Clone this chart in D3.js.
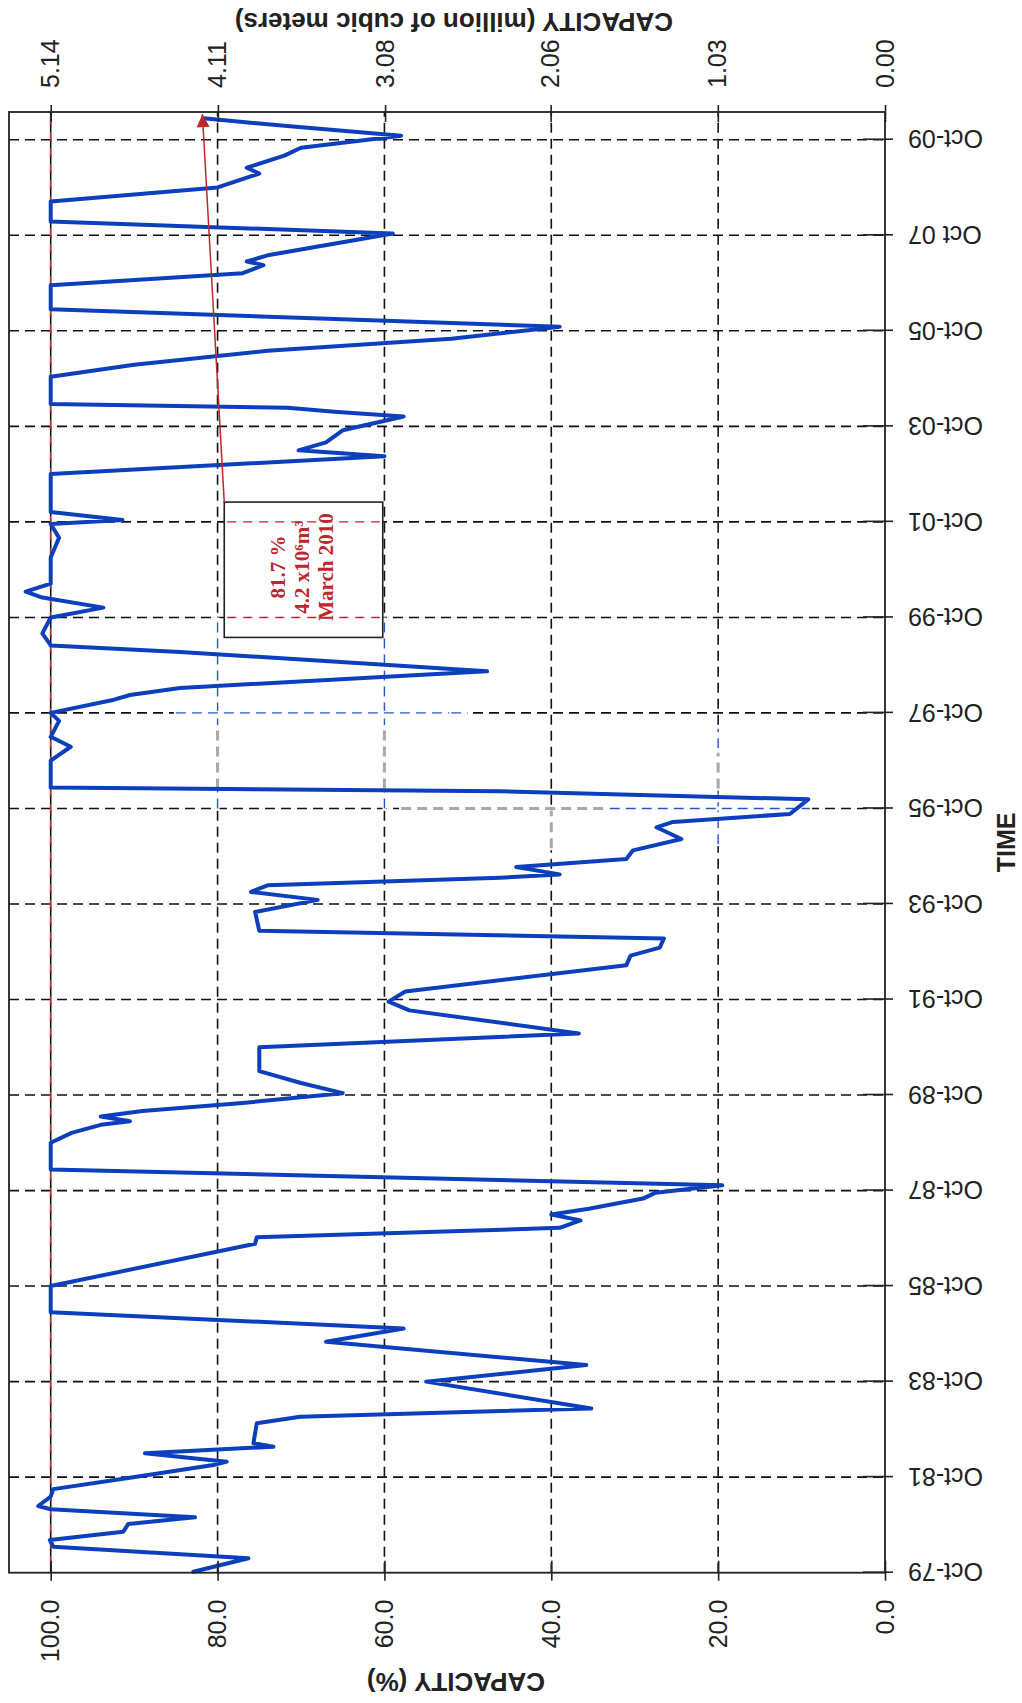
<!DOCTYPE html>
<html>
<head>
<meta charset="utf-8">
<script src="https://cdn.jsdelivr.net/npm/d3@7"></script>
<style>
  html, body { margin: 0; padding: 0; background: #fff; }
  svg { display: block; }
</style>
</head>
<body>
<script>
// Reservoir storage record, Oct 1979 - Mar 2010
const obsDates = [
  "1979-10-08","1980-01-19","1980-04-17","1980-06-07","1980-08-10","1980-10-08","1980-11-28",
  "1981-01-28","1981-02-22","1981-05-05","1981-07-01","1981-09-22","1982-01-02","1982-01-27",
  "1982-04-01","1982-05-22","1982-06-17","1982-11-17","1983-01-06","1983-03-10","1983-10-01",
  "1984-02-05","1984-08-01","1984-11-10","1985-03-15","1985-10-01","1986-08-20","1986-10-10",
  "1986-12-20","1987-02-15","1987-04-01","1987-05-15","1987-08-01","1987-09-15","1987-11-10",
  "1988-03-10","1988-10-01","1988-12-15","1989-02-15","1989-03-15","1989-04-20","1989-06-01",
  "1989-08-01","1989-10-15","1990-01-01","1990-04-01","1990-10-01","1991-01-15","1991-07-10",
  "1991-09-15","1991-12-01","1992-06-20","1992-09-01","1992-11-01","1993-01-10","1993-03-10",
  "1993-08-01","1993-11-01","1994-01-01","1994-02-20","1994-04-20","1994-05-15","1994-07-10",
  "1994-09-10","1994-11-15","1995-02-10","1995-05-10","1995-06-20","1995-08-20","1995-12-10",
  "1996-02-10","1996-03-10","1996-10-01","1997-01-15","1997-04-01","1997-08-01","1997-10-01",
  "1998-01-10","1998-02-15","1998-04-10","1998-08-15","1999-01-10","1999-03-01","1999-06-01",
  "1999-10-01","1999-12-15","2000-03-01","2000-04-15","2000-06-15","2001-01-01","2001-06-01",
  "2001-09-15","2001-10-15","2001-12-15","2002-10-01","2003-02-15","2003-04-01","2003-06-01",
  "2003-09-01","2003-12-15","2004-01-20","2004-02-20","2004-03-20","2004-10-15","2005-01-15",
  "2005-05-01","2005-08-01","2005-11-01","2006-03-15","2006-09-15","2006-12-15","2007-02-15",
  "2007-03-15","2007-05-01","2007-10-15","2008-01-15","2008-06-15","2008-10-01","2009-01-15",
  "2009-03-01","2009-06-01","2009-08-01","2009-11-01","2010-01-15","2010-03-15"
];
const capacityPct = [
  82.9, 76.3, 99.7, 100.1, 91.3, 90.7, 82.7,
  100.0, 101.5, 100.0, 99.7, 90.9, 80.5, 78.9,
  88.7, 73.3, 75.7, 75.3, 70.1, 35.2, 55.0,
  35.8, 67.0, 57.7, 100.0, 100.0, 75.5, 75.3,
  39.0, 36.5, 40.0, 35.5, 29.0, 27.5, 19.5,
  100.0, 100.0, 97.5, 94.0, 90.5, 94.0, 89.0,
  77.0, 65.0, 70.0, 75.0, 75.0, 36.7, 57.0,
  59.5, 57.5, 31.0, 30.5, 27.0, 26.5, 75.0,
  75.5, 68.0, 76.0, 74.0, 46.1, 39.0, 44.2,
  31.0, 30.2, 24.4, 27.4, 25.4, 11.4, 9.2,
  46.1, 100.0, 100.0, 97.6, 100.0, 99.0, 100.0,
  92.4, 90.5, 84.5, 47.7, 84.5, 100.0, 101.0,
  100.0, 93.7, 101.0, 103.0, 100.0, 100.0, 99.0,
  100.0, 91.4, 100.0, 100.0, 60.0, 70.3, 67.0,
  65.0, 57.7, 66.0, 71.6, 100.0, 100.0, 90.0,
  74.0, 52.0, 39.0, 100.0, 100.0, 77.0, 74.5,
  76.5, 74.0, 59.0, 100.0, 100.0, 80.0, 75.0,
  76.5, 72.0, 70.0, 58.0, 72.0, 81.7
];

// Axis ticks
const pctTicks = [0, 20, 40, 60, 80, 100];
const volumeTickLabels = ["0.00", "1.03", "2.06", "3.08", "4.11", "5.14"];
const timeTickDates = ["1979-10-01","1981-10-01","1983-10-01","1985-10-01","1987-10-01",
  "1989-10-01","1991-10-01","1993-10-01","1995-10-01","1997-10-01","1999-10-01",
  "2001-10-01","2003-10-01","2005-10-01","2007-10-01","2009-10-01"];
const timeTickLabels = ["Oct-79","Oct-81","Oct-83","Oct-85","Oct-87","Oct-89","Oct-91",
  "Oct-93","Oct-95","Oct-97","Oct-99","Oct-01","Oct-03","Oct-05","Oct 07","Oct-09"];
const noteLines = ["81.7 %", "4.2 x10\u2076m\u00B3", "March 2010"];
const noteDate = "2010-03-15";
const noteValue = 81.7;

// Highlight guides: [orientation, fixed value, from, to, colour]
const guideKind  = ["pct","pct","pct","pct","pct","pct","date","date","date","date","pct"];
const guideAt    = [80, 60, 80, 60, 20, 40, "1997-10-01", "1995-10-01", "1995-10-01", "1997-10-01", 20];
const guideFrom  = ["1995-10-01","1995-10-01","1996-03-01","1996-03-01","1995-01-01","1994-12-01", 85, 58, 33, 52, "1996-03-01"];
const guideTo    = ["1999-09-15","1999-09-15","1997-06-15","1997-06-15","1997-06-01","1995-10-01", 52, 33, 9, 50, "1996-12-01"];
const guideColor = ["blue","blue","gray","gray","blue","gray","blue","gray","blue","blue","gray"];

const parse = d3.timeParse("%Y-%m-%d");
const series = obsDates.map((d, i) => ({ date: parse(d), value: capacityPct[i] }));

const W = 1022, H = 1703;
// The chart is laid out landscape (time across, capacity up) and then turned a quarter turn.
const LW = H;
const plot = { left: 130.3, right: 1591, top: 9, bottom: 885 };

const svg = d3.select("body").append("svg")
  .attr("width", W).attr("height", H)
  .attr("font-family", "'Liberation Sans', Arial, sans-serif");

const g = svg.append("g").attr("transform", `translate(0,${H}) rotate(-90)`);

const x = d3.scaleTime()
  .domain([parse("1979-10-01"), parse("2010-05-01")])
  .range([plot.left, plot.right]);
const y = d3.scaleLinear().domain([0, 105]).range([plot.bottom, plot.top]);
const yVol = d3.scaleLinear().domain([0, 5.14 * 1.05]).range([plot.bottom, plot.top]);

const BLUE = "#0b3fbd", RED = "#c0262d";

// Grid
const grid = g.append("g").attr("fill", "none").attr("stroke-width", 1.6);
grid.selectAll("line.hg").data(pctTicks.filter(v => v > 0)).join("line")
  .attr("x1", plot.left).attr("x2", plot.right)
  .attr("y1", d => y(d)).attr("y2", d => y(d))
  .attr("stroke", "#111").attr("stroke-dasharray", "10,6");
grid.selectAll("line.vg").data(timeTickDates.slice(1)).join("line")
  .attr("x1", d => x(parse(d))).attr("x2", d => x(parse(d)))
  .attr("y1", plot.top).attr("y2", plot.bottom)
  .attr("stroke", "#111").attr("stroke-dasharray", "10,6");

// Coloured guide segments
const guides = g.append("g").attr("fill", "none");
guideKind.forEach((k, i) => {
  const col = guideColor[i] === "blue" ? "#2a55c8" : "#a8a8a8";
  const sw = guideColor[i] === "blue" ? 1.4 : 3;
  let x1, x2, y1, y2;
  if (k === "pct") {
    y1 = y2 = y(guideAt[i]);
    x1 = x(parse(guideFrom[i])); x2 = x(parse(guideTo[i]));
  } else {
    x1 = x2 = x(parse(guideAt[i]));
    y1 = y(guideFrom[i]); y2 = y(guideTo[i]);
  }
  guides.append("rect").attr("x", Math.min(x1, x2) - 2).attr("y", Math.min(y1, y2) - 2)
    .attr("width", Math.abs(x2 - x1) + 4).attr("height", Math.abs(y2 - y1) + 4).attr("fill", "#fff");
  guides.append("line").attr("x1", x1).attr("x2", x2).attr("y1", y1).attr("y2", y2)
    .attr("stroke", col).attr("stroke-width", sw).attr("stroke-dasharray", "10,6");
});

// Full-reservoir reference line
g.append("line")
  .attr("x1", plot.left).attr("x2", plot.right).attr("y1", y(100)).attr("y2", y(100))
  .attr("stroke", RED).attr("stroke-width", 1.8).attr("stroke-dasharray", "8,8")
  .attr("stroke-dashoffset", 8);

// Annotation box
const boxX0 = x(parse("1999-05-01")), boxX1 = x(parse("2002-03-01"));
const boxY0 = y(79.2), boxY1 = y(60.2);
g.append("rect")
  .attr("x", boxX0).attr("y", boxY0).attr("width", boxX1 - boxX0).attr("height", boxY1 - boxY0)
  .attr("fill", "#fff").attr("stroke", "#222").attr("stroke-width", 1.6);
g.selectAll("line.boxgrid").data(["1999-10-01", "2001-10-01"]).join("line")
  .attr("x1", d => x(parse(d))).attr("x2", d => x(parse(d)))
  .attr("y1", boxY0 + 3).attr("y2", boxY1 - 3)
  .attr("stroke", RED).attr("stroke-width", 1.4).attr("stroke-dasharray", "9,7");
const noteText = g.append("text")
  .attr("font-family", "'Liberation Serif', 'Times New Roman', serif")
  .attr("font-weight", "bold").attr("font-size", 21).attr("fill", RED)
  .attr("text-anchor", "middle");
noteText.selectAll("tspan").data(noteLines).join("tspan")
  .attr("x", x(parse("2000-10-20")))
  .attr("y", (d, i) => boxY0 + 61 + i * 24)
  .text(d => d);

// Storage curve
g.append("path").datum(series)
  .attr("fill", "none").attr("stroke", BLUE).attr("stroke-width", 4)
  .attr("stroke-linejoin", "round").attr("stroke-linecap", "round")
  .attr("d", d3.line().x(d => x(d.date)).y(d => y(d.value)));

// Arrow to the latest observation
g.append("defs").append("marker")
  .attr("id", "arrowhead").attr("viewBox", "0 0 10 10").attr("refX", 10).attr("refY", 5)
  .attr("markerWidth", 16).attr("markerHeight", 13).attr("markerUnits", "userSpaceOnUse")
  .attr("orient", "auto")
  .append("path").attr("d", "M0,0 L10,5 L0,10 Z").attr("fill", RED);
g.append("line")
  .attr("x1", boxX1).attr("y1", boxY0)
  .attr("x2", x(parse(noteDate)) + 4).attr("y2", y(noteValue) - 1)
  .attr("stroke", RED).attr("stroke-width", 1.5).attr("marker-end", "url(#arrowhead)");

// Plot frame
g.append("rect")
  .attr("x", plot.left).attr("y", plot.top)
  .attr("width", plot.right - plot.left).attr("height", plot.bottom - plot.top)
  .attr("fill", "none").attr("stroke", "#222").attr("stroke-width", 1.8);

// Capacity (%) axis
const axL = g.append("g").attr("transform", `translate(${plot.left},0)`)
  .call(d3.axisLeft(y).tickValues(pctTicks).tickFormat(d3.format(".1f")).tickSizeInner(8).tickSizeOuter(0).tickPadding(19));
axL.select(".domain").remove();
axL.selectAll(".tick line").attr("x2", 12).attr("x1", -8).attr("stroke", "#222").attr("stroke-width", 1.6);
axL.selectAll(".tick text").attr("font-size", 25).attr("fill", "#222").attr("font-family", "'Liberation Sans', Arial, sans-serif");

// Volume axis
const axR = g.append("g").attr("transform", `translate(${plot.right},0)`)
  .call(d3.axisRight(yVol).tickValues(volumeTickLabels.map(Number)).tickFormat((d, i) => volumeTickLabels[i]).tickSizeOuter(0).tickPadding(18));
axR.select(".domain").remove();
axR.selectAll(".tick line").attr("x1", -10).attr("x2", 7).attr("stroke", "#222").attr("stroke-width", 1.6);
axR.selectAll(".tick text").attr("font-size", 25).attr("fill", "#222").attr("font-family", "'Liberation Sans', Arial, sans-serif");

// Time axis
const axB = g.append("g").attr("transform", `translate(0,${plot.bottom})`)
  .call(d3.axisBottom(x).tickValues(timeTickDates.map(parse)).tickFormat((d, i) => timeTickLabels[i]).tickSizeOuter(0));
axB.select(".domain").remove();
axB.selectAll(".tick line").attr("y1", -22).attr("y2", 8).attr("stroke", "#222").attr("stroke-width", 1.6);
axB.selectAll(".tick text")
  .attr("font-size", 25).attr("fill", "#222").attr("font-family", "'Liberation Sans', Arial, sans-serif")
  .attr("text-anchor", "end").attr("dy", "0.35em")
  .attr("transform", "translate(0,23) rotate(-90)").attr("x", 0).attr("y", 0);

// Axis titles
g.append("text").attr("transform", `translate(21,${(plot.top + plot.bottom) / 2 + 9}) rotate(-90)`)
  .attr("text-anchor", "middle").attr("dominant-baseline", "central")
  .attr("font-size", 26).attr("font-weight", "bold").attr("fill", "#222")
  .text("CAPACITY (%)");
g.append("text").attr("transform", `translate(${LW - 22},${(plot.top + plot.bottom) / 2 + 7}) rotate(-90)`)
  .attr("text-anchor", "middle").attr("dominant-baseline", "central")
  .attr("font-size", 26).attr("font-weight", "bold").attr("fill", "#222")
  .text("CAPACITY (million of cubic meters)");
g.append("text").attr("x", (plot.left + plot.right) / 2).attr("y", 1006)
  .attr("text-anchor", "middle").attr("dominant-baseline", "central")
  .attr("font-size", 25).attr("font-weight", "bold").attr("fill", "#222")
  .text("TIME");
</script>
</body>
</html>
